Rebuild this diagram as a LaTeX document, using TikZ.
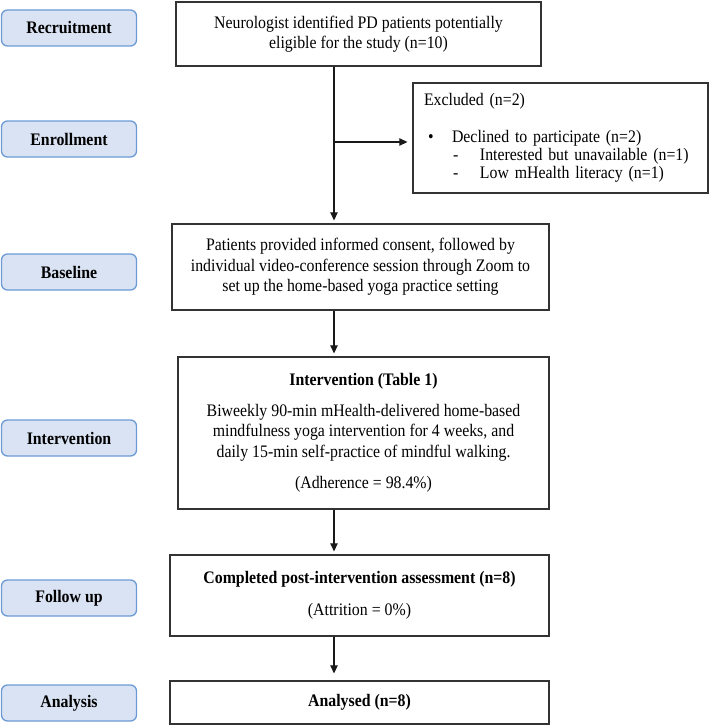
\documentclass[tikz,border=0pt]{standalone}
\usepackage{fontspec}
\setmainfont{Liberation Serif}[FakeStretch=0.9]
\usepackage{tikz}
\usetikzlibrary{positioning,arrows.meta,calc}
\definecolor{stagefill}{HTML}{DAE3F3}
\definecolor{stageline}{HTML}{6C9BD4}
\tikzstyle{stage}=[draw=stageline,fill=stagefill,line width=1.3pt,rounded corners=6pt,
  minimum width=135pt,minimum height=36pt,inner sep=0pt,font=\fontsize{17.6}{20.5}\selectfont\bfseries]
\tikzstyle{flow}=[draw=black!80,line width=1.3pt,align=center,inner sep=0pt]
\tikzstyle{link}=[-{Triangle[length=8pt,width=7.5pt]},line width=1.2pt,draw=black!90,fill=black!90]

\begin{document}
\begin{tikzpicture}[x=1pt,y=-1pt,shorten >=3pt,font=\fontsize{17.6}{20.5}\selectfont]
    \useasboundingbox (0,0) rectangle (711,725);

    % stages on the left
    \node[stage] (l_1) at (69,28)  {Recruitment};
    \node[stage] (l_2) at (69,139) {Enrollment};
    \node[stage] (l_3) at (69,272) {Baseline};
    \node[stage] (l_4) at (69,438) {Intervention};
    \node[stage] (l_5) at (69,598) {Follow up};
    \node[stage] (l_6) at (69,703) {Analysis};

    % flow boxes
    \node[flow,minimum width=365pt,minimum height=64pt] (b_1) at (358.5,34)
        {Neurologist identified PD patients potentially\\eligible for the study (n=10)};
    \node[flow,minimum width=377pt,minimum height=86pt] (b_2) at (360.5,267)
        {Patients provided informed consent, followed by\\individual video-conference session through Zoom to\\set up the home-based yoga practice setting};
    \node[flow,minimum width=371pt,minimum height=152pt] (b_3) at (363.5,433)
        {\textbf{Intervention (Table 1)}\\[10.5pt]
         Biweekly 90-min mHealth-delivered home-based\\mindfulness yoga intervention for 4 weeks, and\\daily 15-min self-practice of mindful walking.\\[11pt]
         (Adherence = 98.4\%)};
    \node[flow,minimum width=379pt,minimum height=81pt] (b_4) at (359.5,595.5)
        {\textbf{Completed post-intervention assessment (n=8)}\\[11pt](Attrition = 0\%)};
    \node[flow,minimum width=379pt,minimum height=43pt] (b_5) at (359.5,702.5)
        {\textbf{Analysed (n=8)}};
    \node[flow,align=left,text width=273pt,minimum width=295pt,minimum height=110pt] (ex) at (560.5,138)
        {Excluded (n=2)\\[16.5pt]
         \hspace*{4pt}\makebox[24pt][l]{\textbullet}Declined to participate (n=2)\\[-2.5pt]
         \hspace*{29pt}\makebox[27pt][l]{-}Interested but unavailable (n=1)\\[-2.5pt]
         \hspace*{29pt}\makebox[27pt][l]{-}Low mHealth literacy (n=1)};

    \coordinate (spine) at (334,0);
    \coordinate (split) at (334,142);

    \draw[link] (b_1.south -| spine) -- (b_2.north -| spine);
    \draw[link,shorten >=5pt] (split) -- (split -| ex.west);
    \draw[link] (b_2.south -| spine) -- (b_3.north -| spine);
    \draw[link] (b_3.south -| spine) -- (b_4.north -| spine);
    \draw[link,shorten >=7pt] (b_4.south -| spine) -- (b_5.north -| spine);
\end{tikzpicture}
\end{document}
